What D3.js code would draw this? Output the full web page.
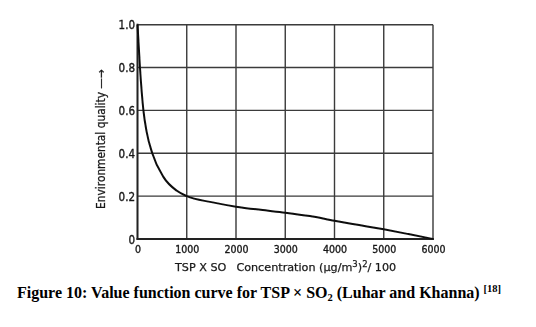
<!DOCTYPE html>
<html>
<head>
<meta charset="utf-8">
<script src="https://cdn.jsdelivr.net/npm/d3@7"></script>
<style>
  html, body { margin: 0; padding: 0; background: #fff; }
  svg { display: block; }
</style>
</head>
<body>
<svg id="chart" width="536" height="327"></svg>
<script>
// Value function: environmental quality vs TSP x SO2 concentration
const concentration = [0, 50, 120, 186, 300, 525, 800, 1000, 1500, 2000, 2500, 3000, 3500, 4000, 4500, 5000, 5500, 6000];
const quality = [1.0, 0.8, 0.6, 0.5, 0.4, 0.29, 0.225, 0.2, 0.172, 0.151, 0.136, 0.123, 0.107, 0.085, 0.065, 0.045, 0.023, 0.0];
const xTicks = [0, 1000, 2000, 3000, 4000, 5000, 6000];
const yTicks = [0, 0.2, 0.4, 0.6, 0.8, 1.0];

const svg = d3.select("#chart");
const plotLeft = 137.5, plotRight = 433, plotTop = 24.7, plotBottom = 239;

const x = d3.scaleLinear().domain([0, 6000]).range([plotLeft, plotRight]);
const y = d3.scaleLinear().domain([0, 1]).range([plotBottom, plotTop]);

const tickFont = "'DejaVu Sans Condensed', 'DejaVu Sans', sans-serif";
const titleFont = "'DejaVu Sans', sans-serif";
const ink = "#1a1a1a";

const defs = svg.append("defs");
defs.append("filter").attr("id", "soft")
  .append("feGaussianBlur").attr("stdDeviation", 0.35);

const plot = svg.append("g").attr("filter", "url(#soft)");

// grid
plot.append("g").selectAll("line").data(xTicks).join("line")
  .attr("x1", d => x(d)).attr("x2", d => x(d))
  .attr("y1", plotTop).attr("y2", plotBottom)
  .attr("stroke", "#3a3a3a").attr("stroke-width", 1.4);
plot.append("g").selectAll("line").data(yTicks).join("line")
  .attr("x1", plotLeft).attr("x2", plotRight)
  .attr("y1", d => y(d)).attr("y2", d => y(d))
  .attr("stroke", "#3a3a3a").attr("stroke-width", 1.4);

// axes frame (left and bottom heavier)
plot.append("line").attr("x1", plotLeft).attr("x2", plotLeft).attr("y1", plotTop - 1).attr("y2", plotBottom + 1)
  .attr("stroke", "#222").attr("stroke-width", 1.8);
plot.append("line").attr("x1", plotLeft - 1).attr("x2", plotRight + 1).attr("y1", plotBottom).attr("y2", plotBottom)
  .attr("stroke", "#222").attr("stroke-width", 1.8);

// curve
const line = d3.line().x((d, i) => x(concentration[i])).y(d => y(d)).curve(d3.curveMonotoneX);
plot.append("path").datum(quality).attr("d", line)
  .attr("fill", "none").attr("stroke", "#111").attr("stroke-width", 2);

// tick labels
const xAxis = d3.axisBottom(x).tickValues(xTicks).tickSize(0).tickPadding(0).tickFormat(d3.format("d"));
const gx = plot.append("g").attr("transform", `translate(0,${plotBottom})`).call(xAxis);
gx.select(".domain").remove();
gx.selectAll("text").attr("dy", null).attr("y", 14)
  .attr("font-family", tickFont).attr("font-size", 10.5).attr("fill", ink)
  .attr("stroke", ink).attr("stroke-width", 0.35);

const yAxis = d3.axisLeft(y).tickValues(yTicks).tickSize(0).tickPadding(0)
  .tickFormat(d => d === 0 ? "0" : d3.format(".1f")(d));
const gy = plot.append("g").attr("transform", `translate(${plotLeft - 2.5},0)`).call(yAxis);
gy.select(".domain").remove();
gy.selectAll("text").attr("x", 0).attr("dy", "0.35em")
  .attr("font-family", tickFont).attr("font-size", 11.5).attr("fill", ink)
  .attr("stroke", ink).attr("stroke-width", 0.35);

// axis titles
const xt = plot.append("text").attr("x", 175).attr("y", 271)
  .attr("font-family", titleFont).attr("font-size", 11.2).attr("fill", ink)
  .attr("stroke", ink).attr("stroke-width", 0.25);
xt.append("tspan").text("TSP X SO");
xt.append("tspan").attr("dx", 10).text("Concentration (μg/m");
xt.append("tspan").attr("dy", -4.5).attr("font-size", 8.5).text("3");
xt.append("tspan").attr("dy", 4.5).text(")");
xt.append("tspan").attr("dy", -4.5).attr("font-size", 8.5).text("2");
xt.append("tspan").attr("dy", 4.5).text("/ 100");

plot.append("text")
  .attr("transform", `translate(105,139) rotate(-90)`)
  .attr("text-anchor", "middle")
  .attr("font-family", tickFont).attr("font-size", 11.8).attr("fill", ink)
  .attr("stroke", ink).attr("stroke-width", 0.25)
  .text("Environmental quality —→");

// caption
const cap = svg.append("text").attr("x", 17).attr("y", 298)
  .attr("font-family", "'Liberation Serif', 'Times New Roman', serif")
  .attr("font-weight", "bold").attr("font-size", 16).attr("fill", "#000");
cap.append("tspan").text("Figure 10: Value function curve for TSP × SO");
cap.append("tspan").attr("font-size", 10.5).attr("dy", 3).text("2");
cap.append("tspan").attr("dy", -3).text(" (Luhar and Khanna) ");
cap.append("tspan").attr("font-size", 10.5).attr("dy", -6).text("[18]");
</script>
</body>
</html>
